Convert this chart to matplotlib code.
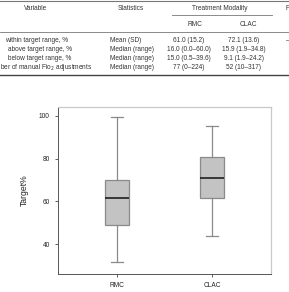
import matplotlib.pyplot as plt

plt.rcParams["font.family"] = ["Liberation Sans Narrow", "Liberation Sans", "DejaVu Sans"]

# table contents (left and right edges are cropped in the source)
header_cols = ["Variable", "Statistics", "Treatment Modality"]
sub_cols = ["RMC", "CLAC"]
row_labels = [
    "within target range, %",
    "above target range, %",
    "below target range, %",
    "ber of manual Fio$_2$ adjustments",
]
row_stats = ["Mean (SD)", "Median (range)", "Median (range)", "Median (range)"]
rmc_vals = ["61.0 (15.2)", "16.0 (0.0\u201360.0)", "15.0 (0.5\u201339.6)", "77 (0\u2013224)"]
clac_vals = ["72.1 (13.6)", "15.9 (1.9\u201334.8)", "9.1 (1.9\u201324.2)", "52 (10\u2013317)"]

# box plot summary, % time in target
groups = ["RMC", "CLAC"]
whisker_lo = [31.5, 43.8]
q1 = [48.9, 61.6]
median = [61.4, 71.1]
q3 = [69.9, 80.8]
whisker_hi = [99.4, 95.4]

fig = plt.figure(figsize=(2.89, 2.92), dpi=100)

# --- table drawn on a pixel-space overlay
tab = fig.add_axes([0, 0, 1, 1])
tab.set_xlim(0, 289)
tab.set_ylim(292, 0)
tab.axis("off")

fs = 4.7
tcol = "#333333"
tab.plot([0, 289], [1, 1], color="#777777", lw=0.8)
tab.plot([172, 272], [15, 15], color="#777777", lw=0.6)
tab.plot([0, 289], [32, 32], color="#777777", lw=0.6)
tab.plot([0, 289], [74.5, 74.5], color="#444444", lw=1.0)

tab.text(36, 9, header_cols[0], fontsize=fs, ha="center", va="center", color=tcol)
tab.text(131, 9, header_cols[1], fontsize=fs, ha="center", va="center", color=tcol)
tab.text(220, 9, header_cols[2], fontsize=fs, ha="center", va="center", color=tcol)
tab.text(286, 9, "P", fontsize=fs, ha="left", va="center", color=tcol)
tab.text(195, 25, sub_cols[0], fontsize=fs, ha="center", va="center", color=tcol)
tab.text(248, 25, sub_cols[1], fontsize=fs, ha="center", va="center", color=tcol)

row_y = [40.5, 49.5, 58.5, 67.5]
label_x = [5, 8, 8, 0]
for i, y in enumerate(row_y):
    tab.text(label_x[i], y, row_labels[i], fontsize=fs, ha="left", va="center", color=tcol)
    tab.text(110, y, row_stats[i], fontsize=fs, ha="left", va="center", color=tcol)
    tab.text(189, y, rmc_vals[i], fontsize=fs, ha="center", va="center", color=tcol)
    tab.text(244, y, clac_vals[i], fontsize=fs, ha="center", va="center", color=tcol)
tab.text(286, row_y[0], "\u2013", fontsize=fs, ha="left", va="center", color=tcol)

# --- box plot
ax = fig.add_axes([0.2007, 0.0616, 0.737, 0.572])
stats = [
    {"label": g, "whislo": lo, "q1": a, "med": m, "q3": b, "whishi": hi, "fliers": []}
    for g, lo, a, m, b, hi in zip(groups, whisker_lo, q1, median, q3, whisker_hi)
]
ax.bxp(
    stats,
    positions=[1, 2],
    widths=0.25,
    patch_artist=True,
    showfliers=False,
    boxprops=dict(facecolor="#c3c3c3", edgecolor="#8a8a8a", linewidth=0.9),
    medianprops=dict(color="#111111", linewidth=1.1),
    whiskerprops=dict(color="#8a8a8a", linewidth=0.9),
    capprops=dict(color="#8a8a8a", linewidth=0.9),
    capwidths=0.13,
)
ax.set_xlim(0.38, 2.62)
ax.set_ylim(26, 104.2)
ax.set_yticks([40, 60, 80, 100])
ax.set_ylabel("Target%", fontsize=6.2, color="#222222", labelpad=7)
ax.tick_params(axis="both", labelsize=4.7, length=2, width=0.6, pad=4, colors="#444444")
ax.tick_params(axis="both", labelcolor="#222222")
for side in ["left", "bottom"]:
    ax.spines[side].set_color("#555555")
    ax.spines[side].set_linewidth(0.7)
for side in ["top", "right"]:
    ax.spines[side].set_color("#c8c8c8")
    ax.spines[side].set_linewidth(0.9)

fig.savefig("out.png", dpi=100)
